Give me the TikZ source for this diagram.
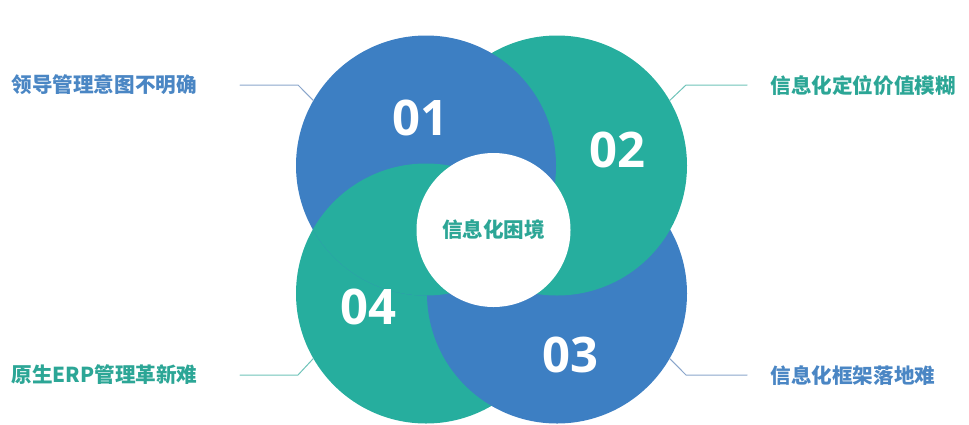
\documentclass[tikz,border=0pt]{standalone}
\usepackage{fontspec}
\newfontfamily\cjk{Noto Sans CJK SC}
\newfontfamily\digits{Open Sans}
\definecolor{petalblue}{HTML}{3D7FC3}
\definecolor{petalgreen}{HTML}{26AE9E}
\definecolor{textblue}{HTML}{4A86C4}
\definecolor{textgreen}{HTML}{2CA696}
\definecolor{lineblue}{HTML}{8AA6CB}
\definecolor{linegreen}{HTML}{6FC3B9}
\begin{document}
\begin{tikzpicture}[x=1pt,y=-1pt,line join=round,line cap=round,
					every node/.style={font=\cjk\bfseries\fontsize{20.6}{24}\selectfont},
					petal/.style={circle,inner sep=0pt,minimum size=260pt},
					num/.style={text=white,font=\digits\bfseries\fontsize{49}{56}\selectfont},
					lead/.style={line width=1pt},
					declare function={
						xo = 491.5; yo = 229.5;
						dx = 65.5; dy = 64;
					}]
					\useasboundingbox (0,0) rectangle (969,424);
					% petals, 04 at the bottom of the stack
					\node[petal,fill=petalgreen] (c4) at (xo-dx,yo+dy) {};
					\node[petal,fill=petalblue] (c3) at (xo+dx,yo+dy) {};
					\node[petal,fill=petalgreen] (c2) at (xo+dx,yo-dy) {};
					\node[petal,fill=petalblue] (c1) at (xo-dx,yo-dy) {};
					\begin{scope}
						\clip (c1.center) circle (130pt);
						\fill[petalgreen] (c4.center) circle (130pt);
					\end{scope}
					\node[circle,fill=white,inner sep=0pt,minimum size=154pt,text=textgreen] (core) at (493.5,230) {信息化困境};
					\node[num] (n1) at (420,118) {01};
					\node[num] (n2) at (617,150) {02};
					\node[num] (n3) at (570,355) {03};
					\node[num] (n4) at (368,307) {04};
					% labels
					\node[anchor=west,text=textblue] (l1) at (8,85) {领导管理意图不明确};
					\node[anchor=west,text=textgreen] (l2) at (767,86) {信息化定位价值模糊};
					\node[anchor=west,text=textblue] (l3) at (767,376) {信息化框架落地难};
					\node[anchor=west,text=textgreen] (l4) at (8,375) {原生ERP管理革新难};
					\path
					(240,85) coordinate (s1)
					(298,85) coordinate (k1)
					(747,85) coordinate (s2)
					(686,85) coordinate (k2)
					(747,375) coordinate (s3)
					(686,375) coordinate (k3)
					(240,375) coordinate (s4)
					(298,375) coordinate (k4);
					\foreach \i/\ang/\col in {
						1/150/lineblue,
						2/30/linegreen,
						3/-30/lineblue,
						4/210/linegreen}{
						\draw[lead,\col] (s\i) -- (k\i) -- (c\i.\ang);
					}
				\end{tikzpicture}
\end{document}
